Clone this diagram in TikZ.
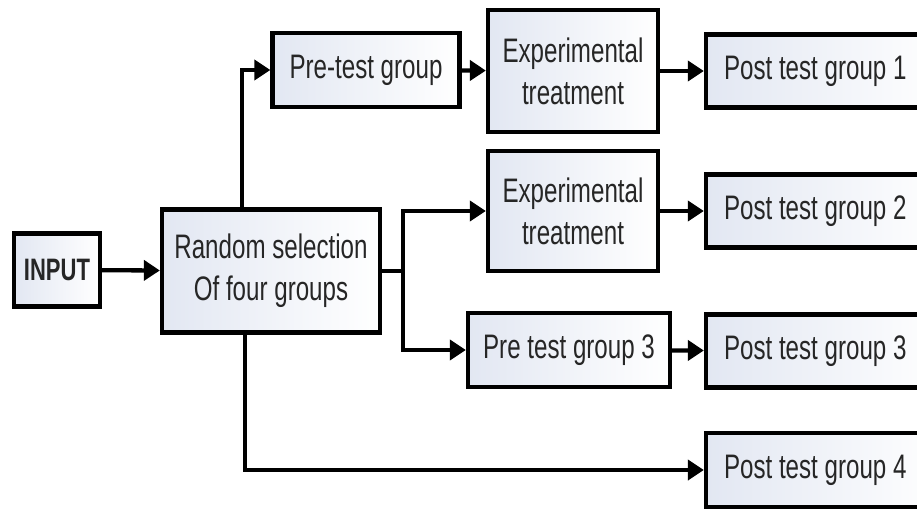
\documentclass[tikz,border=0pt]{standalone}
\usepackage{fontspec}
\setmainfont{Liberation Sans}[FakeStretch=0.71]
\usepackage{tikz}
\usetikzlibrary{arrows.meta,positioning}
\definecolor{boxleft}{RGB}{226,231,242}
\tikzset{
  box/.style ={draw, line width=4.3pt, align=center, inner sep=0pt,
               left color=boxleft, right color=white, text=black!85,
               font=\fontsize{34}{42}\selectfont, minimum height=74pt},
  post/.style={box, minimum width=240pt, minimum height=73pt, text width=204pt, align=flush left},
  arr/.style ={-{Triangle[length=16pt,width=20pt]}, line width=4.3pt},
  lin/.style ={line width=4.3pt},
}
\begin{document}
\begin{tikzpicture}[x=1pt, y=-1pt]
  \clip (0,0) rectangle (917,508);
  \fill[white] (0,0) rectangle (917,508);
  % left part
  \node[box, minimum width=86pt, minimum height=73pt, font=\fontsize{31}{34}\selectfont\bfseries] (inp) at (57,270) {INPUT};
  \node[box, minimum width=218pt, minimum height=123pt] (rand) at (271,271) {Random selection\\Of four groups};
  % middle column
  \node[box, minimum width=187pt] (pre1) at (366,70) {Pre-test group};
  \node[box, minimum width=170pt, minimum height=122pt] (exp1) at (573,71) {Experimental\\treatment};
  \node[box, minimum width=170pt, minimum height=120pt] (exp2) at (573,211) {Experimental\\treatment};
  \node[box, minimum width=202pt] (pre3) at (569,350) {Pre test group 3};
  % post test column
  \node[post] (post1) at (826,71) {Post test group 1};
  \node[post] (post2) at (826,211) {Post test group 2};
  \node[post] (post3) at (826,351) {Post test group 3};
  \node[post, minimum height=74pt] (post4) at (826,470) {Post test group 4};
  \coordinate (split) at (403,271);
  % connectors
  \draw[arr] (inp) -- (rand);
  \draw[arr] ([xshift=-29pt]rand.north) |- (pre1);
  \draw[arr] (pre1) -- (exp1);
  \draw[arr] (exp1) -- (post1);
  \draw[lin] (rand.east) -- (split);
  \draw[arr] ([yshift=-2.15pt]split) |- (exp2);
  \draw[arr] ([yshift=2.15pt]split) |- (pre3);
  \draw[arr] (exp2) -- (post2);
  \draw[arr] (pre3) -- (post3);
  \draw[arr] ([xshift=-26pt]rand.south) |- (post4);
\end{tikzpicture}
\end{document}
